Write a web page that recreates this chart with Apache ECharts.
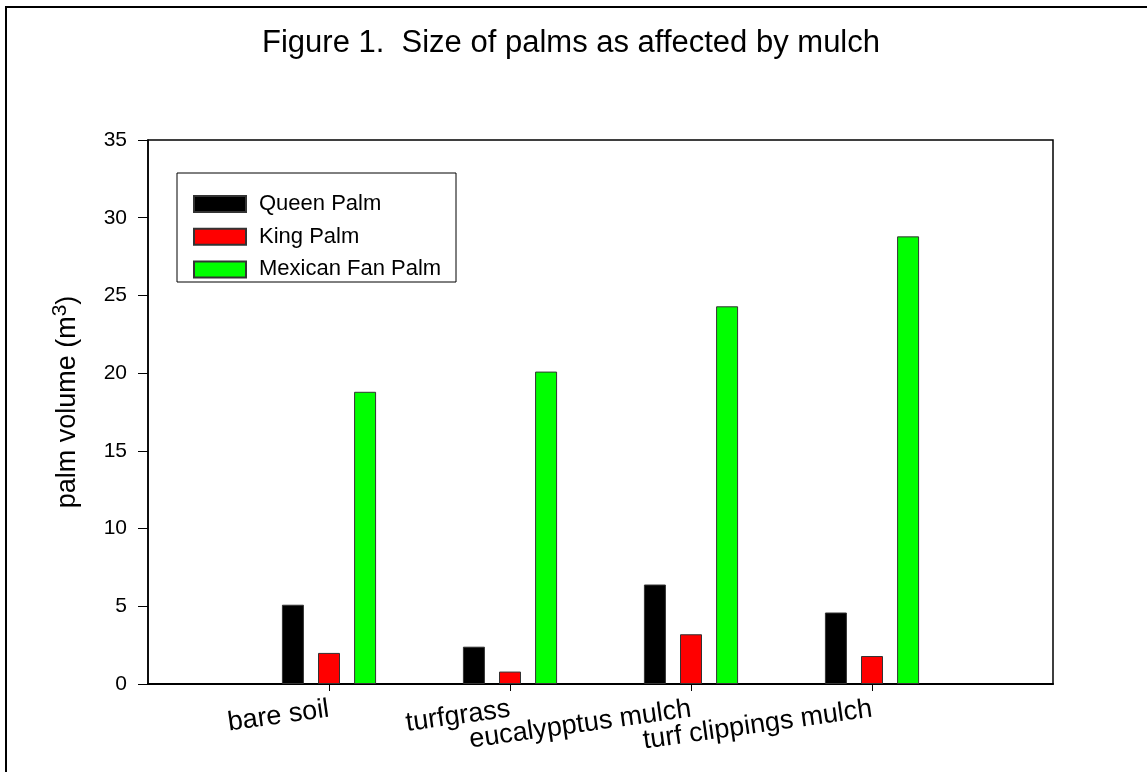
<!DOCTYPE html>
<html>
<head>
<meta charset="utf-8">
<script src="https://cdn.jsdelivr.net/npm/echarts@6/dist/echarts.min.js"></script>
<style>html,body{margin:0;padding:0;background:#fff;}#c{width:1147px;height:772px;}</style>
</head>
<body>
<div id="c"></div>
<script>
const categories = ['', 'bare soil', 'turfgrass', 'eucalypptus mulch', 'turf clippings mulch', ''];
const queenPalm = [null, 5.1, 2.4, 6.4, 4.6, null];
const kingPalm = [null, 2.0, 0.8, 3.2, 1.8, null];
const mexicanFanPalm = [null, 18.8, 20.1, 24.3, 28.8, null];
const seriesNames = ['Queen Palm', 'King Palm', 'Mexican Fan Palm'];
const yTicks = [0, 5, 10, 15, 20, 25, 30, 35];

const FONT = 'Liberation Sans, Arial, sans-serif';
const chart = echarts.init(document.getElementById('c'), null, {renderer: 'canvas'});
const showIdx = (i) => i >= 1 && i <= 4;
const oddIdx = (i) => i === 1 || i === 3;
const evenIdx = (i) => i === 2 || i === 4;
const barStyle = (c) => ({color: c, borderColor: '#333', borderWidth: 1});
const catLabel = (fn) => ({interval: fn, rotate: 8, margin: 25, hideOverlap: false,
  fontFamily: FONT, fontSize: 27, color: '#000'});

chart.setOption({
  animation: false,
  backgroundColor: '#fff',
  title: {
    text: 'Figure 1.  Size of palms as affected by mulch',
    left: 262, top: 28, padding: 0,
    textStyle: {fontFamily: FONT, fontSize: 31, fontWeight: 'normal', color: '#000'}
  },
  legend: {
    orient: 'vertical', left: 193, top: 193, padding: 0,
    itemWidth: 52, itemHeight: 16, itemGap: 10.7, icon: 'rect',
    data: seriesNames,
    textStyle: {fontFamily: FONT, fontSize: 22, color: '#000', padding: [0, 0, 0, 8]}
  },
  grid: {left: 148, right: 94, top: 140, bottom: 88, show: true, borderColor: '#000', borderWidth: 1.5, containLabel: false},
  xAxis: [
    {
      type: 'category', data: categories, boundaryGap: false, position: 'bottom',
      axisLine: {lineStyle: {color: '#000', width: 2}},
      axisTick: {length: 7, interval: showIdx, lineStyle: {color: '#000', width: 1}},
      axisLabel: catLabel(oddIdx),
      splitLine: {show: false}
    },
    {
      type: 'category', data: categories, boundaryGap: false, position: 'bottom', offset: 0,
      axisLine: {show: false}, axisTick: {show: false},
      axisLabel: catLabel(evenIdx),
      splitLine: {show: false}
    }
  ],
  yAxis: {
    type: 'value', min: 0, max: 35, interval: 5,
    name: 'palm volume (m{sup|3})', nameLocation: 'middle', nameGap: 62,
    nameTextStyle: {fontFamily: FONT, fontSize: 27, color: '#000', padding: [0, 0, 0, 20],
      rich: {sup: {fontFamily: FONT, fontSize: 21, color: '#000', verticalAlign: 'bottom', padding: [0, 0, 15, 0]}}},
    axisLine: {show: true, lineStyle: {color: '#000', width: 1.5}},
    axisTick: {show: true, length: 10, lineStyle: {color: '#000', width: 1}},
    axisLabel: {margin: 21, fontFamily: FONT, fontSize: 21, color: '#000',
      formatter: (v) => yTicks.includes(v) ? String(v) : ''},
    splitLine: {show: false}
  },
  graphic: [
    {type: 'rect', shape: {x: 6, y: 7, width: 2000, height: 2000}, style: {fill: 'none', stroke: '#000', lineWidth: 2}, silent: true},
    {type: 'rect', shape: {x: 177, y: 173, width: 279, height: 109}, style: {fill: 'none', stroke: '#000', lineWidth: 1}, silent: true, z: 10}
  ],
  series: [
    {name: seriesNames[0], type: 'bar', xAxisIndex: 0, data: queenPalm, barWidth: 22, barGap: '64%', itemStyle: barStyle('#000000')},
    {name: seriesNames[1], type: 'bar', xAxisIndex: 0, data: kingPalm, barWidth: 22, barGap: '64%', itemStyle: barStyle('#ff0000')},
    {name: seriesNames[2], type: 'bar', xAxisIndex: 0, data: mexicanFanPalm, barWidth: 22, barGap: '64%', itemStyle: barStyle('#00ff00')}
  ]
});
</script>
</body>
</html>
